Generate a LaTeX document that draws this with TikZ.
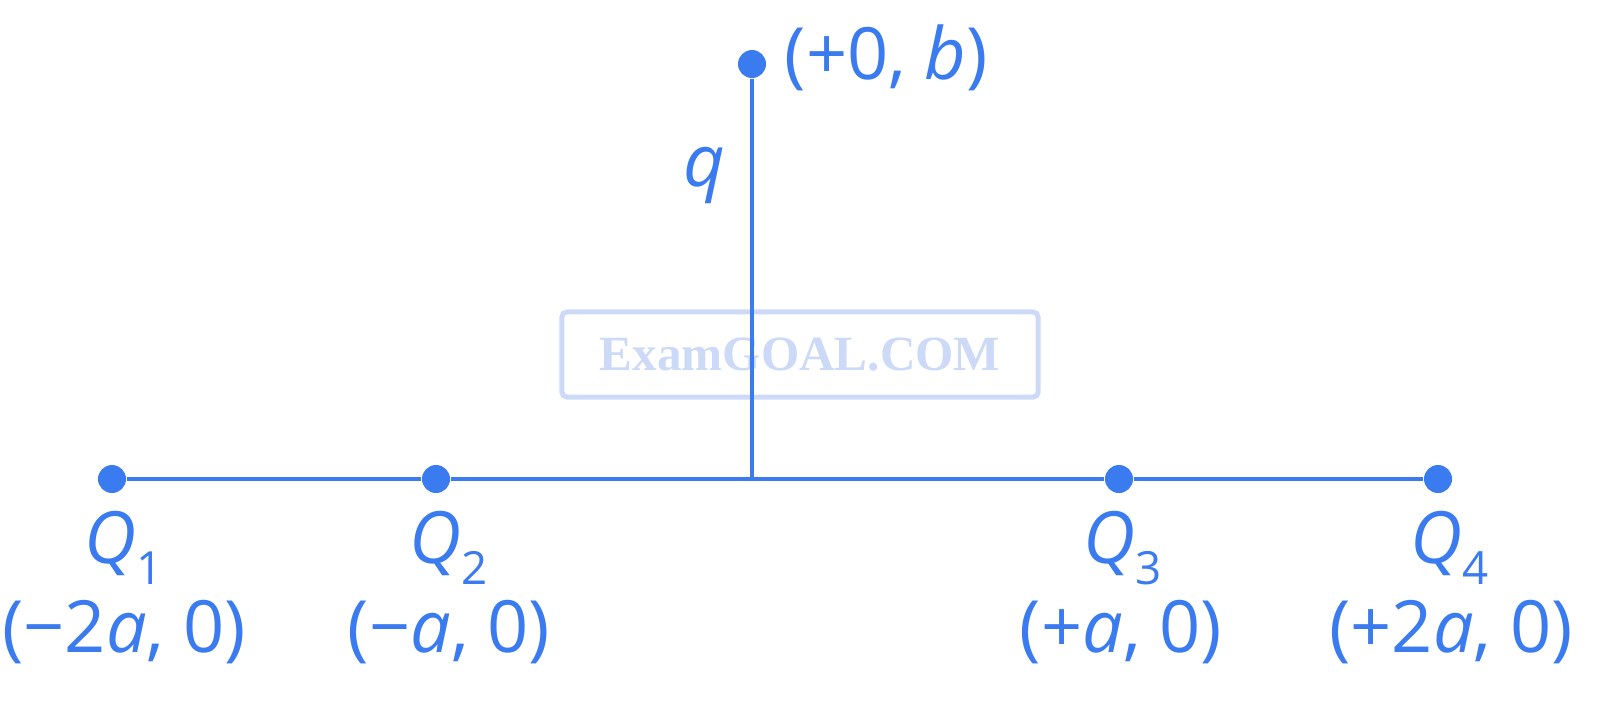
\documentclass[tikz,border=0pt]{standalone}
\usepackage{fontspec}
\setmainfont{Open Sans}
\newfontfamily\wmfont{Liberation Serif}
\definecolor{qblue}{RGB}{59,123,240}
\definecolor{wmblue}{RGB}{204,218,247}
\newcommand{\qsub}[1]{\raisebox{-0.3em}{\fontsize{13}{13}\selectfont #1}}
\begin{document}
\begin{tikzpicture}[x=0.01cm,y=-0.01cm,
  dot/.style={circle,fill=qblue,inner sep=0pt,minimum size=0.28cm},
  wire/.style={draw=qblue,line width=0.035cm},
  lbl/.style={text=qblue,inner sep=0pt,font=\fontsize{20.5}{24}\selectfont},
  wmark/.style={draw=wmblue,line width=0.05cm,rounded corners=0.05cm,
    minimum width=4.76cm,minimum height=0.85cm,text=wmblue,
    font=\wmfont\bfseries\fontsize{14}{16}\selectfont}]
\useasboundingbox (0,0) rectangle (1600,708);
\node[wmark] (wm) at (800,354.5) {ExamGOAL.COM};
\node[dot] (q1) at (112,479) {};
\node[dot] (q2) at (436,479) {};
\node[dot] (q3) at (1119,479) {};
\node[dot] (q4) at (1438,479) {};
\node[dot] (t) at (752,64) {};
\coordinate (o) at (752,479);
\draw[wire] (q1) -- (q2) -- (o) -- (q3) -- (q4);
\draw[wire] (t) -- (o);
\node[lbl,anchor=base west] (tl) at (784,79) {(+0, \textit{b})};
\node[lbl,anchor=base] (ql) at (704,186) {\textit{q}};
\node[lbl,anchor=base west] (n1) at (84,563) {\textit{Q}\qsub{1}};
\node[lbl,anchor=base west] (n2) at (409,563) {\textit{Q}\qsub{2}};
\node[lbl,anchor=base west] (n3) at (1083,563) {\textit{Q}\qsub{3}};
\node[lbl,anchor=base west] (n4) at (1410,563) {\textit{Q}\qsub{4}};
\node[lbl,anchor=base] (c1) at (124,652) {(−2\textit{a}, 0)};
\node[lbl,anchor=base] (c2) at (449,652) {(−\textit{a}, 0)};
\node[lbl,anchor=base] (c3) at (1121,652) {(+\textit{a}, 0)};
\node[lbl,anchor=base] (c4) at (1451,652) {(+2\textit{a}, 0)};
\end{tikzpicture}
\end{document}
